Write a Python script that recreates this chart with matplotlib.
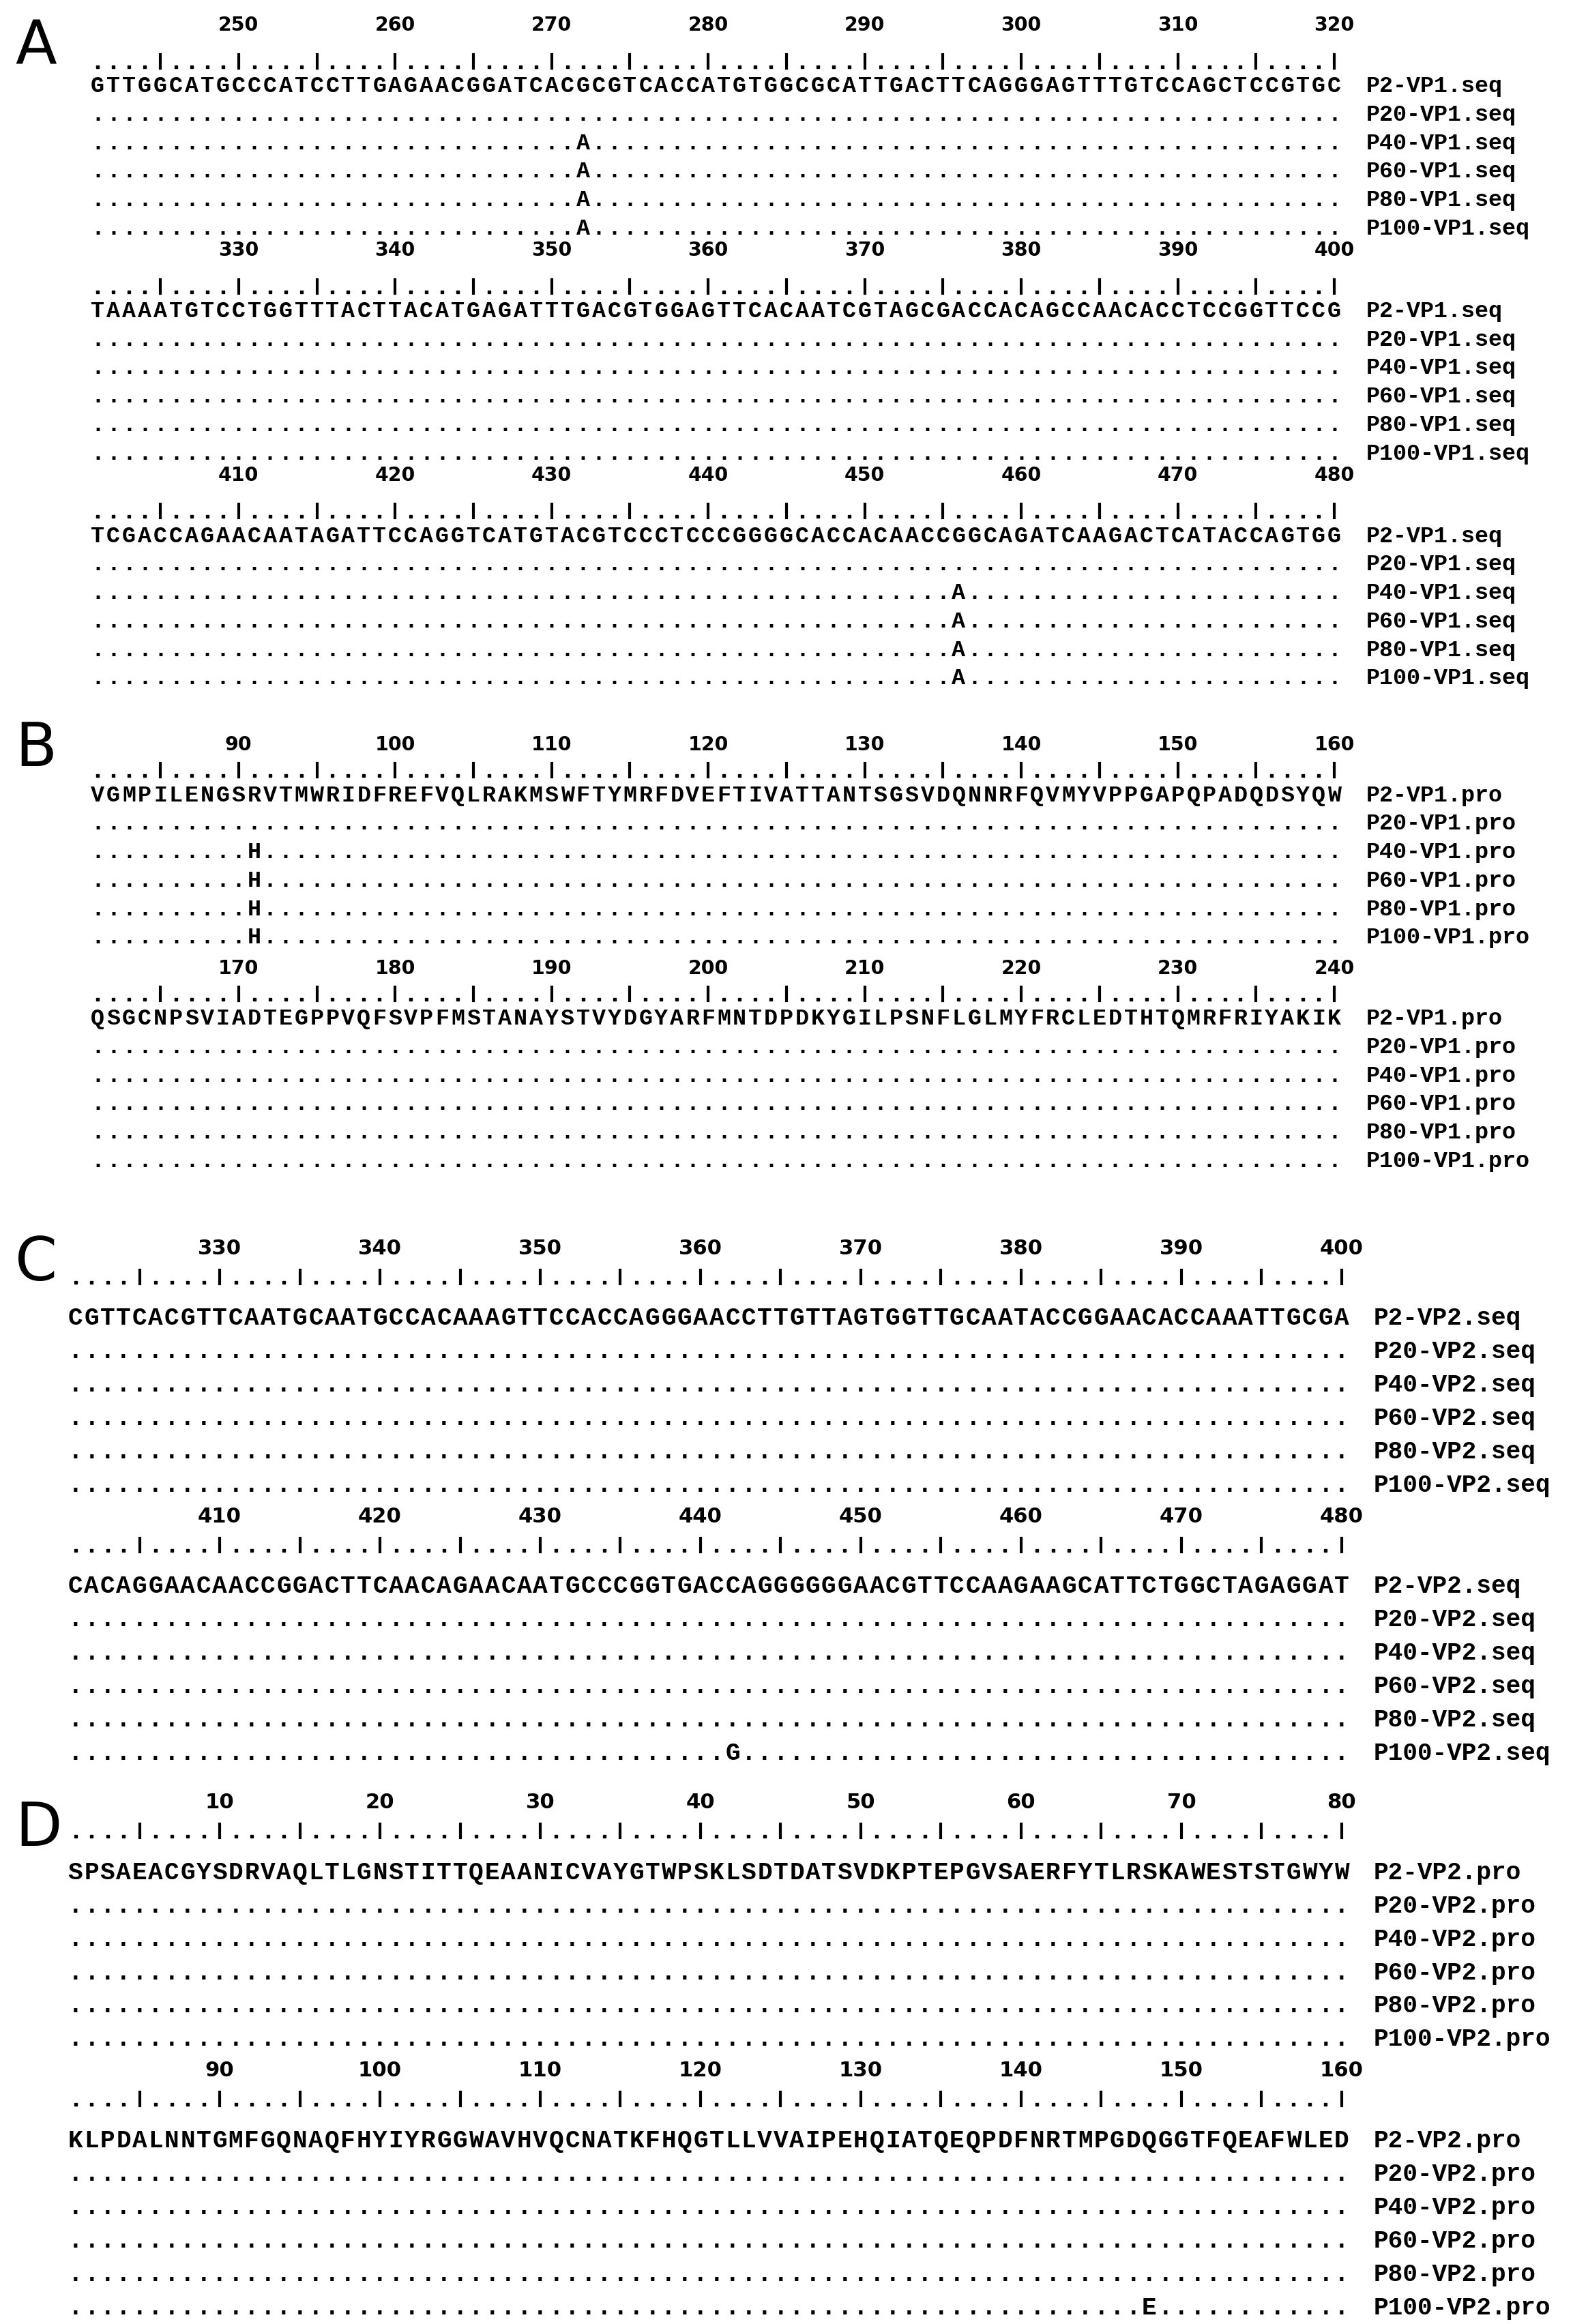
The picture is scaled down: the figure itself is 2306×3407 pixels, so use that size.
import matplotlib.pyplot as plt

panels = ["A", "B", "C", "D"]
samples = ["P2", "P20", "P40", "P60", "P80", "P100"]

a_seq = [
    "GTTGGCATGCCCATCCTTGAGAACGGATCACGCGTCACCATGTGGCGCATTGACTTCAGGGAGTTTGTCCAGCTCCGTGC",
    "TAAAATGTCCTGGTTTACTTACATGAGATTTGACGTGGAGTTCACAATCGTAGCGACCACAGCCAACACCTCCGGTTCCG",
    "TCGACCAGAACAATAGATTCCAGGTCATGTACGTCCCTCCCGGGGCACCACAACCGGCAGATCAAGACTCATACCAGTGG",
]
a_start = [241, 321, 401]
a_mut = [{272: "A"}, {}, {456: "A"}]
a_mut_samples = [["P40", "P60", "P80", "P100"], [], ["P40", "P60", "P80", "P100"]]

b_seq = [
    "VGMPILENGSRVTMWRIDFREFVQLRAKMSWFTYMRFDVEFTIVATTANTSGSVDQNNRFQVMYVPPGAPQPADQDSYQW",
    "QSGCNPSVIADTEGPPVQFSVPFMSTANAYSTVYDGYARFMNTDPDKYGILPSNFLGLMYFRCLEDTHTQMRFRIYAKIK",
]
b_start = [81, 161]
b_mut = [{91: "H"}, {}]
b_mut_samples = [["P40", "P60", "P80", "P100"], []]

c_seq = [
    "CGTTCACGTTCAATGCAATGCCACAAAGTTCCACCAGGGAACCTTGTTAGTGGTTGCAATACCGGAACACCAAATTGCGA",
    "CACAGGAACAACCGGACTTCAACAGAACAATGCCCGGTGACCAGGGGGGAACGTTCCAAGAAGCATTCTGGCTAGAGGAT",
]
c_start = [321, 401]
c_mut = [{}, {442: "G"}]
c_mut_samples = [[], ["P100"]]

d_seq = [
    "SPSAEACGYSDRVAQLTLGNSTITTQEAANICVAYGTWPSKLSDTDATSVDKPTEPGVSAERFYTLRSKAWESTSTGWYW",
    "KLPDALNNTGMFGQNAQFHYIYRGGWAVHVQCNATKFHQGTLLVVAIPEHQIATQEQPDFNRTMPGDQGGTFQEAFWLED",
]
d_start = [1, 81]
d_mut = [{}, {148: "E"}]
d_mut_samples = [[], ["P100"]]

fig = plt.figure(figsize=(23.06, 34.07), dpi=100)
ax = fig.add_axes([0, 0, 1, 1])
ax.set_xlim(0, 2306)
ax.set_ylim(3407, 0)
ax.axis("off")

mono = dict(family="Liberation Mono", weight="bold", ha="center", va="center")
sx = 2.196
sy = 2.184


def block(y_ruler, seq, start, muts, mut_samples, suffix, x0, w, row_step, seq_gap, lab_gap, fs, name_x):
    for i in range(len(seq)):
        pos = start + i
        x = x0 + (i + 0.5) * w
        if pos % 5 == 0:
            ax.plot([x, x], [y_ruler - 12, y_ruler + 8], color="black", lw=3)
        else:
            ax.plot(x, y_ruler + 6, "s", color="black", ms=3.5)
        if pos % 10 == 0:
            ax.text(x, y_ruler - lab_gap, str(pos), fontsize=fs * 0.85, weight="bold",
                    ha="center", va="center", family="DejaVu Sans")
    for r, s in enumerate(samples):
        y = y_ruler + seq_gap + r * row_step
        for i, ch in enumerate(seq):
            pos = start + i
            if r == 0:
                c = ch
            elif pos in muts and s in mut_samples:
                c = muts[pos]
            else:
                c = "."
            ax.text(x0 + (i + 0.5) * w, y, c, fontsize=fs, **mono)
        ax.text(name_x, y, f"{s}-{suffix}", fontsize=fs, family="Liberation Mono",
                weight="bold", ha="left", va="center")


for k in range(3):
    block((42 + 151 * k) * sy, a_seq[k], a_start[k], a_mut[k], a_mut_samples[k], "VP1.seq",
          60 * sx, 10.45 * sx, 19.1 * sy, 16 * sy, 25 * sy, 24, 912 * sx)
for k in range(2):
    block((518 + 150 * k) * sy, b_seq[k], b_start[k], b_mut[k], b_mut_samples[k], "VP1.pro",
          60 * sx, 10.45 * sx, 19.1 * sy, 16 * sy, 18 * sy, 24, 912 * sx)
for k in range(2):
    block((858 + 180 * k) * sy, c_seq[k], c_start[k], c_mut[k], c_mut_samples[k], "VP2.seq",
          45 * sx, 10.7 * sx, 22.4 * sy, 27 * sy, 20 * sy, 26, 917 * sx)
for k in range(2):
    block((1230 + 180 * k) * sy, d_seq[k], d_start[k], d_mut[k], d_mut_samples[k], "VP2.pro",
          45 * sx, 10.7 * sx, 22.4 * sy, 27 * sy, 20 * sy, 26, 917 * sx)

for p, y in zip(panels, [32, 503, 848, 1228]):
    ax.text(10 * sx, y * sy, p, fontsize=64, family="DejaVu Sans", ha="left", va="center")

fig.savefig("out.png", dpi=100)
